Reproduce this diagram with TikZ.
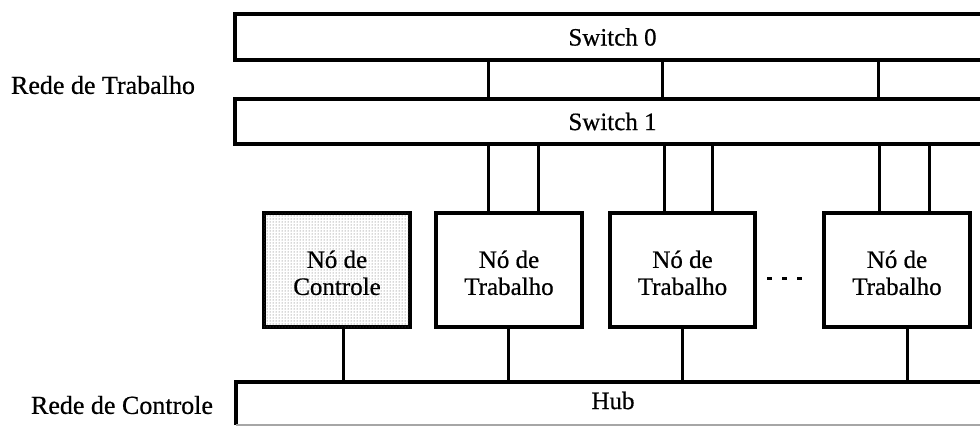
\documentclass[tikz,border=0pt]{standalone}
\usepackage{fontspec}
\setmainfont{Liberation Serif}
\newfontfamily\scanfont{Liberation Serif}[FakeBold=0.6]
\usetikzlibrary{patterns}
\newcommand{\boxtext}[2]{\raisebox{-6pt}[\height][\depth]{\begin{tabular}{@{}c@{}}#1\\#2\end{tabular}}}
\begin{document}
\begin{tikzpicture}[x=1pt,y=-1pt,
  bar/.style={draw, line width=3.3pt, inner sep=0pt, outer sep=0pt, font=\scanfont\fontsize{25}{28}\selectfont},
  nodebox/.style={draw, line width=3.3pt, inner sep=0pt, outer sep=0pt, minimum width=146pt, minimum height=114pt, align=center, font=\scanfont\fontsize{25}{27}\selectfont, fill=white},
  ctrlbox/.style={nodebox, postaction={pattern=dots, pattern color=black!65}},
  wire/.style={line width=3pt},
  lbl/.style={font=\scanfont\fontsize{26}{28}\selectfont, inner sep=0pt}
]
\clip (0,0) rectangle (980,426);
% switches
\node[bar, minimum width=755pt, minimum height=46pt] (S0) at (612.5,37) {Switch 0};
\node[bar, minimum width=755pt, minimum height=45pt] (S1) at (612.5,121.5) {Switch 1};
% hub (bottom edge faint)
\node[inner sep=0pt, outer sep=0pt, minimum width=754pt, minimum height=43pt, font=\scanfont\fontsize{25}{28}\selectfont] (H) at (613,403.5) {\raisebox{3pt}[\height][\depth]{Hub}};
\draw[line width=3.3pt] (H.south west) -- (H.north west) -- (H.north east);
\draw[line width=1.5pt, black!35] (H.south west) -- (H.south east);
% nodes
\node[ctrlbox] (C) at (337,270) {\boxtext{Nó de}{Controle}};
\node[nodebox] (T1) at (509,270) {\boxtext{Nó de}{Trabalho}};
\node[nodebox, minimum width=145pt] (T2) at (682.5,270) {\boxtext{Nó de}{Trabalho}};
\node[nodebox] (T3) at (897,270) {\boxtext{Nó de}{Trabalho}};
% labels
\node[lbl] (L1) at (103,85) {Rede de Trabalho};
\node[lbl] (L2) at (122,405) {Rede de Controle};
% x positions
\foreach \n/\x in {a/488,b/662,c/878,d/538,e/664,f/712,g/879,h/929,i/343,j/508,k/682,l/907}
  \coordinate (x\n) at (\x,0);
% switch0 - switch1
\foreach \n in {a,b,c} \draw[wire] (S0.south -| x\n) -- (S1.north -| x\n);
% switch1 - nodes
\draw[wire] (S1.south -| xa) -- (T1.north -| xa);
\draw[wire] (S1.south -| xd) -- (T1.north -| xd);
\draw[wire] (S1.south -| xe) -- (T2.north -| xe);
\draw[wire] (S1.south -| xf) -- (T2.north -| xf);
\draw[wire] (S1.south -| xg) -- (T3.north -| xg);
\draw[wire] (S1.south -| xh) -- (T3.north -| xh);
% nodes - hub
\draw[wire] (C.south -| xi) -- (H.north -| xi);
\draw[wire] (T1.south -| xj) -- (H.north -| xj);
\draw[wire] (T2.south -| xk) -- (H.north -| xk);
\draw[wire] (T3.south -| xl) -- (H.north -| xl);
% ellipsis
\foreach \x in {769,784,799} \fill (\x-2.5,276.5) rectangle (\x+2.5,279.5);
\end{tikzpicture}
\end{document}
